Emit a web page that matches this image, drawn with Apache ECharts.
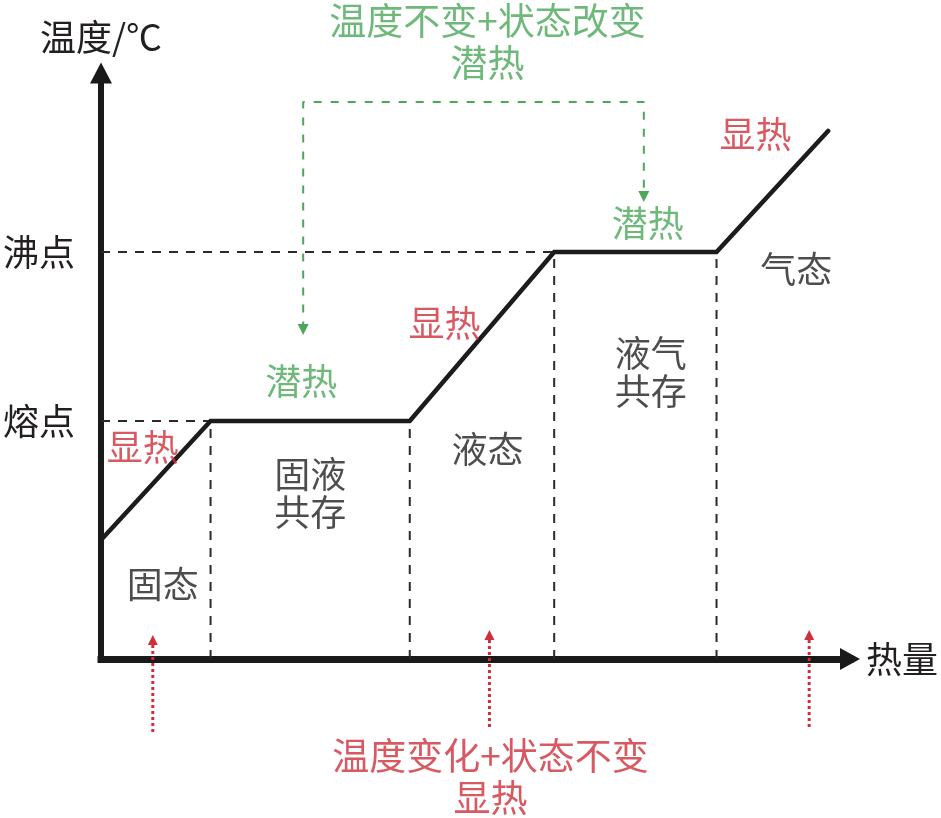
<!DOCTYPE html>
<html>
<head>
<meta charset="utf-8">
<script src="https://cdn.jsdelivr.net/npm/echarts@6/dist/echarts.min.js"></script>
<style>
  html, body { margin: 0; padding: 0; background: #fff; }
  #chart { width: 941px; height: 818px; }
</style>
</head>
<body>
<div id="chart"></div>
<script>
// heating curve (heat vs temperature, arbitrary units)
const heat = [0, 110, 310, 455, 618, 730]
const temperature = [119, 238, 238, 407, 407, 528]

const yTickValues = [238, 407]
const yTickLabels = ['熔点', '沸点']

// text annotations
const noteText = ['显热', '固态', '固液\n共存', '潜热', '显热', '液态', '液气\n共存', '潜热', '显热', '气态',
  '温度不变+状态改变\n潜热', '温度变化+状态不变\n显热']
const noteX = [42, 62, 210, 201, 345, 388, 552, 549, 657, 698, 388, 391]
const noteY = [212, 75, 166, 278, 336, 210, 287, 436, 525, 390, 617.5, -118]
const noteKind = ['red', 'black', 'black', 'green', 'red', 'black', 'black', 'green', 'red', 'black', 'green', 'red']

// green dashed bracket (latent heat)
const bracketX = [203, 203, 545, 545]
const bracketY = [329.5, 557, 557, 462.5]

// red dotted arrows (sensible heat)
const arrowX = [52, 390, 711]
const arrowTop = [19, 24, 24]
const arrowBottom = [-73, -68, -68]

const COLORS = { black: '#231f20', red: '#cf2f3b', green: '#4aa858' }
const FONT = '"Noto Sans CJK SC", "Noto Sans CJK JP", sans-serif'

const chart = echarts.init(document.getElementById('chart'))

// dashed guides under plateaus
const guides = [
  [[0, temperature[1]], [heat[1], temperature[1]]],
  [[0, temperature[3]], [heat[3], temperature[3]]],
  [[heat[1], 0], [heat[1], temperature[1]]],
  [[heat[2], 0], [heat[2], temperature[2]]],
  [[heat[3], 0], [heat[3], temperature[3]]],
  [[heat[4], 0], [heat[4], temperature[4]]]
]

const series = []

guides.forEach((g) => {
  series.push({
    type: 'line',
    data: g,
    symbol: 'none',
    silent: true,
    lineStyle: { color: '#2a2a2a', width: 2, type: [9, 8] },
    z: 1
  })
})

series.push({
  type: 'line',
  data: heat.map((h, i) => [h, temperature[i]]),
  symbol: 'none',
  silent: true,
  lineStyle: { color: '#1c1c1c', width: 4.5, cap: 'round', join: 'miter' },
  z: 3
})

series.push({
  type: 'line',
  clip: false,
  silent: true,
  symbol: 'triangle',
  symbolSize: [11, 11],
  data: bracketX.map((x, i) => {
    const end = i === 0 || i === bracketX.length - 1
    return end
      ? { value: [x, bracketY[i]], symbolRotate: 180 }
      : { value: [x, bracketY[i]], symbol: 'none' }
  }),
  itemStyle: { color: COLORS.green },
  lineStyle: { color: COLORS.green, width: 2, type: [8, 9] },
  z: 4
})

arrowX.forEach((x, i) => {
  series.push({
    type: 'line',
    clip: false,
    silent: true,
    symbol: 'triangle',
    symbolSize: [10, 10],
    data: [
      { value: [x, arrowBottom[i]], symbol: 'none' },
      { value: [x, arrowTop[i]] }
    ],
    itemStyle: { color: COLORS.red },
    lineStyle: { color: COLORS.red, width: 3, type: [3, 3] },
    z: 5
  })
})

series.push({
  type: 'scatter',
  clip: false,
  silent: true,
  symbolSize: 0,
  data: noteText.map((t, i) => ({
    name: t,
    value: [noteX[i], noteY[i]],
    label: i >= 10
      ? { color: COLORS[noteKind[i]], lineHeight: 42, fontSize: 37 }
      : { color: COLORS[noteKind[i]], lineHeight: 38 }
  })),
  label: {
    show: true,
    position: 'inside',
    formatter: '{b}',
    fontSize: 36,
    fontFamily: FONT,
    align: 'center',
    verticalAlign: 'middle'
  },
  z: 6
})

const option = {
  animation: false,
  backgroundColor: '#fff',
  grid: { left: 100, right: 89, top: 73, bottom: 159 },
  xAxis: {
    type: 'value',
    min: 0,
    max: 752,
    name: '热量',
    nameLocation: 'end',
    nameGap: 16,
    nameTextStyle: { fontSize: 36, color: COLORS.black, fontFamily: FONT },
    axisLine: {
      show: true,
      symbol: ['none', 'triangle'],
      symbolSize: [22, 20],
      lineStyle: { color: '#1a1a1a', width: 7, cap: 'square' }
    },
    axisTick: { show: false },
    axisLabel: { show: false },
    splitLine: { show: false }
  },
  yAxis: {
    type: 'value',
    min: 0,
    max: 586,
    name: '温度/℃',
    nameLocation: 'end',
    nameGap: 18,
    nameTextStyle: { fontSize: 36, color: COLORS.black, fontFamily: FONT, align: 'center' },
    axisLine: {
      show: true,
      symbol: ['none', 'triangle'],
      symbolSize: [22, 21],
      lineStyle: { color: '#1a1a1a', width: 6, cap: 'square' }
    },
    axisTick: { show: false },
    axisLabel: {
      show: true,
      customValues: yTickValues,
      formatter: (v) => yTickLabels[yTickValues.indexOf(v)] || '',
      margin: 26,
      fontSize: 36,
      color: COLORS.black,
      fontFamily: FONT
    },
    splitLine: { show: false }
  },
  series: series
}

chart.setOption(option)
</script>
</body>
</html>
